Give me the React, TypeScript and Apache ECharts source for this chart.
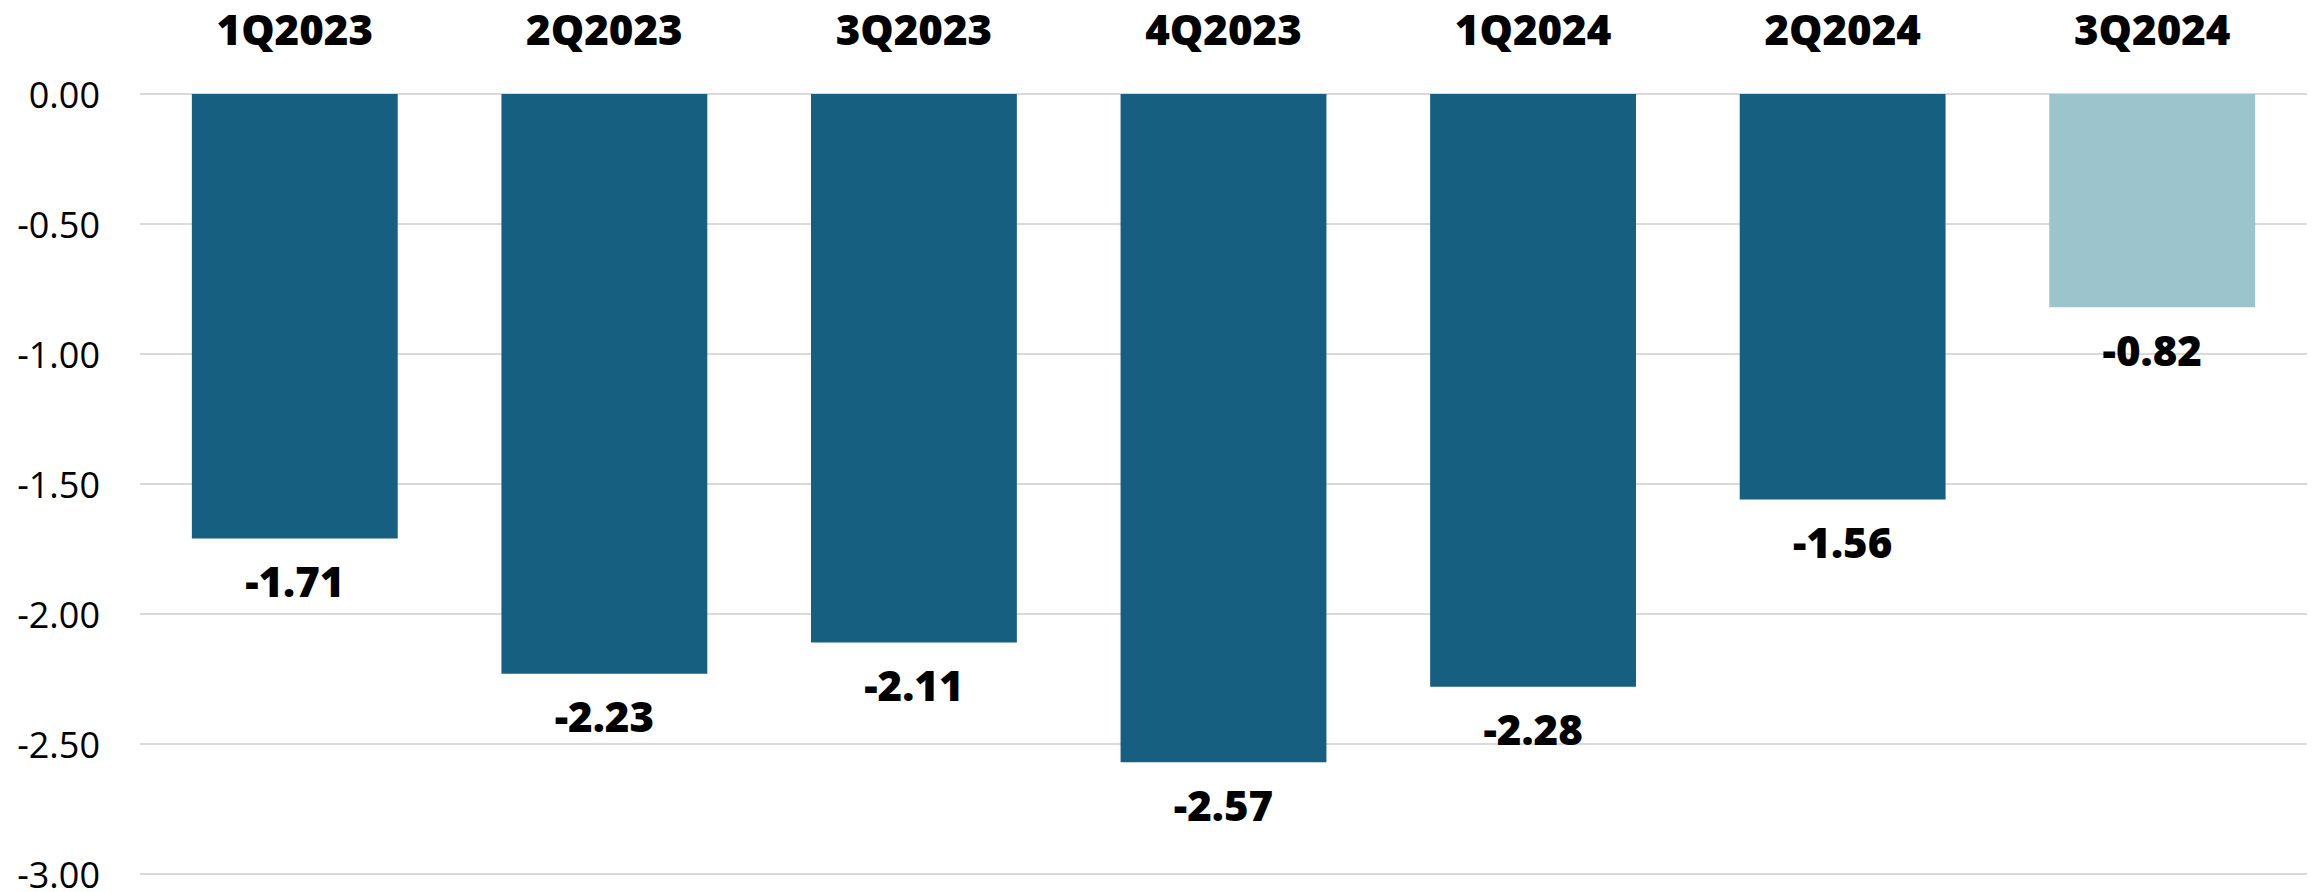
import React, { useEffect, useRef } from "react";
import * as echarts from "echarts";

const quarters = ["1Q2023", "2Q2023", "3Q2023", "4Q2023", "1Q2024", "2Q2024", "3Q2024"];
const values = [-1.71, -2.23, -2.11, -2.57, -2.28, -1.56, -0.82];
const highlightIndex = 6;
const yTicks = { min: -3, max: 0, interval: 0.5 };

const DARK = "#175F80";
const LIGHT = "#9CC4CC";

export default function App() {
  const ref = useRef<HTMLDivElement>(null);

  useEffect(() => {
    if (!ref.current) return;
    const chart = echarts.init(ref.current, undefined, { renderer: "svg" });
    chart.setOption({
      animation: false,
      grid: { left: 140, right: 9, top: 94, bottom: 17, containLabel: false },
      xAxis: {
        type: "category",
        position: "top",
        data: quarters,
        axisLine: { show: false },
        axisTick: { show: false },
        axisLabel: {
          margin: 45,
          color: "#000",
          fontFamily: "Open Sans",
          fontWeight: 800,
          fontSize: 42,
        },
      },
      yAxis: {
        type: "value",
        min: yTicks.min,
        max: yTicks.max,
        interval: yTicks.interval,
        axisLine: { show: false },
        axisTick: { show: false },
        splitLine: { lineStyle: { color: "#d9d9d9", width: 2 } },
        axisLabel: {
          margin: 40,
          color: "#000",
          fontFamily: "Open Sans",
          fontSize: 36,
          formatter: (v: number) => v.toFixed(2),
        },
      },
      series: [
        {
          type: "bar",
          barWidth: "66.5%",
          data: values.map((v, i) => ({
            value: v,
            itemStyle: { color: i === highlightIndex ? LIGHT : DARK },
          })),
          label: {
            show: true,
            position: "bottom",
            distance: 21,
            color: "#000",
            fontFamily: "Open Sans",
            fontWeight: 800,
            fontSize: 42,
            formatter: (p: any) => Number(p.value).toFixed(2),
          },
        },
      ],
    });
    return () => chart.dispose();
  }, []);

  return (
    <div
      ref={ref}
      style={{ position: "fixed", left: 0, top: 0, width: 2316, height: 892, background: "#fff" }}
    />
  );
}
